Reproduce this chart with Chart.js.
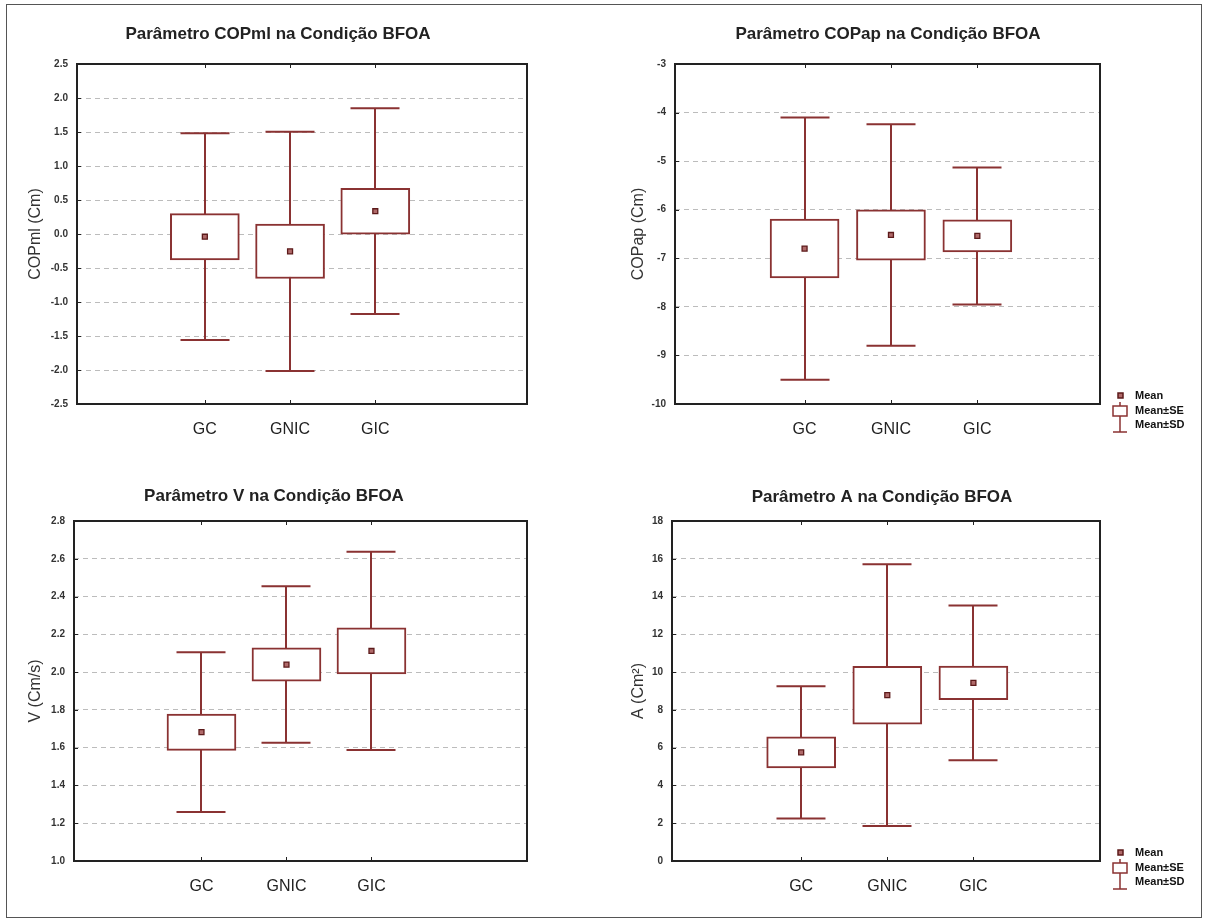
<!DOCTYPE html>
<html>
<head>
<meta charset="utf-8">
<title>Parâmetros na Condição BFOA</title>
<script src="https://cdn.jsdelivr.net/npm/chart.js@4.4.0/dist/chart.umd.min.js"></script>
<style>
  body { margin: 0; background: #fff; }
  #page { position: relative; width: 1208px; height: 922px; overflow: hidden; background: #fff; }
  #frame { position: absolute; left: 6px; top: 4px; width: 1194px; height: 912px; border: 1px solid #555; }
  #page canvas { position: absolute; }
</style>
</head>
<body>
<div id="page"><div id="frame"></div></div>
<script>
// groups and where they sit on the x axis
const groups = ['GC', 'GNIC', 'GIC'];
const groupX = [1.5, 2.5, 3.5];

// COPml (Cm)
const copmlMean = [-0.04, -0.255, 0.335];
const copmlSE   = [0.34, 0.40, 0.337];
const copmlSD   = [1.52, 1.76, 1.513];

// COPap (Cm)
const copapMean = [-6.80, -6.52, -6.54];
const copapSE   = [0.605, 0.52, 0.33];
const copapSD   = [2.70, 2.28, 1.41];

// V (Cm/s)
const vMean = [1.682, 2.04, 2.112];
const vSE   = [0.096, 0.088, 0.122];
const vSD   = [0.423, 0.414, 0.525];

// A (Cm²)
const aMean = [5.75, 8.78, 9.43];
const aSE   = [0.82, 1.53, 0.89];
const aSD   = [3.50, 6.93, 4.09];

// y axis ranges: [min, max, step]
const copmlAxis = [-2.5, 2.5, 0.5];
const copapAxis = [-10, -3, 1];
const vAxis     = [1.0, 2.8, 0.2];
const aAxis     = [0, 18, 2];

const legendLabels = ['Mean', 'Mean±SE', 'Mean±SD'];

const boxColor = '#8a3232';
const fontFamily = '"Liberation Sans", Arial, sans-serif';

// whiskers behind the boxes, then frame, inner ticks, title and legend on top
const statPlot = {
    id: 'statPlot',
    beforeDatasetsDraw(chart) {
        const ctx = chart.ctx;
        const xs = chart.scales.x, ys = chart.scales.y;
        const ds = chart.data.datasets.find(d => d.type === 'bar');
        ctx.save();
        ctx.strokeStyle = boxColor;
        ctx.lineWidth = 2;
        ds.data.forEach((d, i) => {
            const x = Math.round(xs.getPixelForValue(d.x));
            const top = ys.getPixelForValue(ds.mean[i] + ds.sd[i]);
            const bot = ys.getPixelForValue(ds.mean[i] - ds.sd[i]);
            ctx.beginPath();
            ctx.moveTo(x, top); ctx.lineTo(x, bot);
            ctx.moveTo(x - 24.5, top); ctx.lineTo(x + 24.5, top);
            ctx.moveTo(x - 24.5, bot); ctx.lineTo(x + 24.5, bot);
            ctx.stroke();
        });
        ctx.restore();
    },
    afterDraw(chart, args, opts) {
        const ctx = chart.ctx;
        const ca = chart.chartArea;
        const xs = chart.scales.x, ys = chart.scales.y;
        ctx.save();

        // frame
        ctx.strokeStyle = '#222';
        ctx.lineWidth = 2;
        ctx.strokeRect(ca.left, ca.top, ca.right - ca.left, ca.bottom - ca.top);

        // short inward tick marks
        ctx.lineWidth = 1;
        ctx.beginPath();
        ys.ticks.forEach(t => {
            const y = Math.round(ys.getPixelForValue(t.value)) + 0.5;
            ctx.moveTo(ca.left, y); ctx.lineTo(ca.left + 4, y);
        });
        xs.ticks.forEach(t => {
            const x = Math.round(xs.getPixelForValue(t.value)) + 0.5;
            ctx.moveTo(x, ca.bottom); ctx.lineTo(x, ca.bottom - 4);
            ctx.moveTo(x, ca.top); ctx.lineTo(x, ca.top + 4);
        });
        ctx.stroke();

        // panel title
        ctx.fillStyle = '#222';
        ctx.font = 'bold 17px ' + fontFamily;
        ctx.textAlign = 'center';
        ctx.textBaseline = 'middle';
        ctx.fillText(opts.title, opts.titleX, opts.titleY);

        if (opts.legend) {
            const sx = ca.right + 20;
            const tx = ca.right + 35;
            const b = ca.bottom + 2;
            ctx.strokeStyle = boxColor;
            ctx.lineWidth = 1.5;
            // mean marker
            ctx.fillStyle = '#b06a6a';
            ctx.fillRect(sx - 2, b - 13, 5, 5);
            ctx.strokeStyle = '#5c1a1a';
            ctx.strokeRect(sx - 2, b - 13, 5, 5);
            // box with whisker
            ctx.strokeStyle = boxColor;
            ctx.beginPath();
            ctx.moveTo(sx, b - 4); ctx.lineTo(sx, b);
            ctx.moveTo(sx, b + 10); ctx.lineTo(sx, b + 26);
            ctx.moveTo(sx - 7, b + 26); ctx.lineTo(sx + 7, b + 26);
            ctx.stroke();
            ctx.strokeRect(sx - 7, b, 14, 10);

            ctx.fillStyle = '#111';
            ctx.font = 'bold 11px ' + fontFamily;
            ctx.textAlign = 'left';
            ctx.fillText(legendLabels[0], tx, b - 10);
            ctx.fillText(legendLabels[1], tx, b + 5);
            ctx.fillText(legendLabels[2], tx, b + 19);
        }
        ctx.restore();
    }
};

function makePanel(p) {
    const canvas = document.createElement('canvas');
    canvas.width = p.w;
    canvas.height = p.h;
    canvas.style.left = p.x + 'px';
    canvas.style.top = p.y + 'px';
    canvas.style.width = p.w + 'px';
    canvas.style.height = p.h + 'px';
    document.getElementById('page').appendChild(canvas);

    const [ymin, ymax, ystep] = p.axis;
    const eps = ystep / 100;

    return new Chart(canvas.getContext('2d'), {
        type: 'bar',
        data: {
            datasets: [
                {
                    type: 'scatter',
                    label: legendLabels[0],
                    order: 0,
                    data: groupX.map((x, i) => ({ x: x, y: p.mean[i] })),
                    pointStyle: 'rect',
                    pointRadius: 3.5,
                    backgroundColor: '#b06a6a',
                    borderColor: '#5c1a1a',
                    borderWidth: 1.3
                },
                {
                    type: 'bar',
                    label: legendLabels[1],
                    order: 1,
                    data: groupX.map((x, i) => ({ x: x, y: [p.mean[i] - p.se[i], p.mean[i] + p.se[i]] })),
                    mean: p.mean,
                    sd: p.sd,
                    backgroundColor: '#ffffff',
                    borderColor: boxColor,
                    borderWidth: 2,
                    borderSkipped: false,
                    barThickness: 69
                }
            ]
        },
        options: {
            responsive: false,
            animation: false,
            events: [],
            layout: {
                padding: { left: 0, top: p.top, right: p.w - p.right, bottom: p.h - p.bottom - 30 }
            },
            plugins: {
                legend: { display: false },
                tooltip: { enabled: false },
                statPlot: { title: p.title, titleX: p.titleX, titleY: p.titleY, legend: p.legend }
            },
            scales: {
                x: {
                    type: 'linear',
                    min: 0,
                    max: p.xmax,
                    offset: false,
                    grid: { display: false },
                    border: { display: false },
                    afterBuildTicks: s => { s.ticks = groupX.map(v => ({ value: v })); },
                    afterFit: s => { s.height = 30; },
                    ticks: {
                        padding: 8,
                        color: '#222',
                        font: { family: fontFamily, size: 16 },
                        callback: v => groups[groupX.indexOf(v)]
                    }
                },
                y: {
                    min: ymin,
                    max: ymax,
                    afterFit: s => { s.width = p.left; },
                    grid: {
                        drawTicks: false,
                        lineWidth: 1,
                        color: c => (c.tick && (c.tick.value <= ymin + eps || c.tick.value >= ymax - eps)) ? 'rgba(0,0,0,0)' : '#bcbcbc'
                    },
                    border: { display: false, dash: [5, 4] },
                    title: {
                        display: true,
                        text: p.ytitle,
                        color: '#333',
                        font: { family: fontFamily, size: 16 },
                        padding: { top: p.ytitlePad, bottom: 0 }
                    },
                    ticks: {
                        stepSize: ystep,
                        padding: 9,
                        color: '#333',
                        font: { family: fontFamily, size: 10, weight: 'bold' },
                        callback: v => p.fmt(v)
                    }
                }
            }
        },
        plugins: [statPlot]
    });
}

document.addEventListener('DOMContentLoaded', function () {
    const oneDec = v => v.toFixed(1);
    const whole = v => String(Math.round(v));

    makePanel({
        x: 0, y: 0, w: 600, h: 460,
        left: 77, right: 527, top: 64, bottom: 404, xmax: 5.28,
        title: 'Parâmetro COPml na Condição BFOA', titleX: 278, titleY: 34,
        ytitle: 'COPml (Cm)', ytitlePad: 26,
        axis: copmlAxis, fmt: oneDec,
        mean: copmlMean, se: copmlSE, sd: copmlSD, legend: false
    });
    makePanel({
        x: 600, y: 0, w: 608, h: 460,
        left: 75, right: 500, top: 64, bottom: 404, xmax: 4.92,
        title: 'Parâmetro COPap na Condição BFOA', titleX: 288, titleY: 34,
        ytitle: 'COPap (Cm)', ytitlePad: 29,
        axis: copapAxis, fmt: whole,
        mean: copapMean, se: copapSE, sd: copapSD, legend: true
    });
    makePanel({
        x: 0, y: 460, w: 600, h: 462,
        left: 74, right: 527, top: 61, bottom: 401, xmax: 5.33,
        title: 'Parâmetro V na Condição BFOA', titleX: 274, titleY: 36,
        ytitle: 'V (Cm/s)', ytitlePad: 26,
        axis: vAxis, fmt: oneDec,
        mean: vMean, se: vSE, sd: vSD, legend: false
    });
    makePanel({
        x: 600, y: 460, w: 608, h: 462,
        left: 72, right: 500, top: 61, bottom: 401, xmax: 4.97,
        title: 'Parâmetro A na Condição BFOA', titleX: 282, titleY: 37,
        ytitle: 'A (Cm²)', ytitlePad: 29,
        axis: aAxis, fmt: whole,
        mean: aMean, se: aSE, sd: aSD, legend: true
    });
});
</script>
</body>
</html>
